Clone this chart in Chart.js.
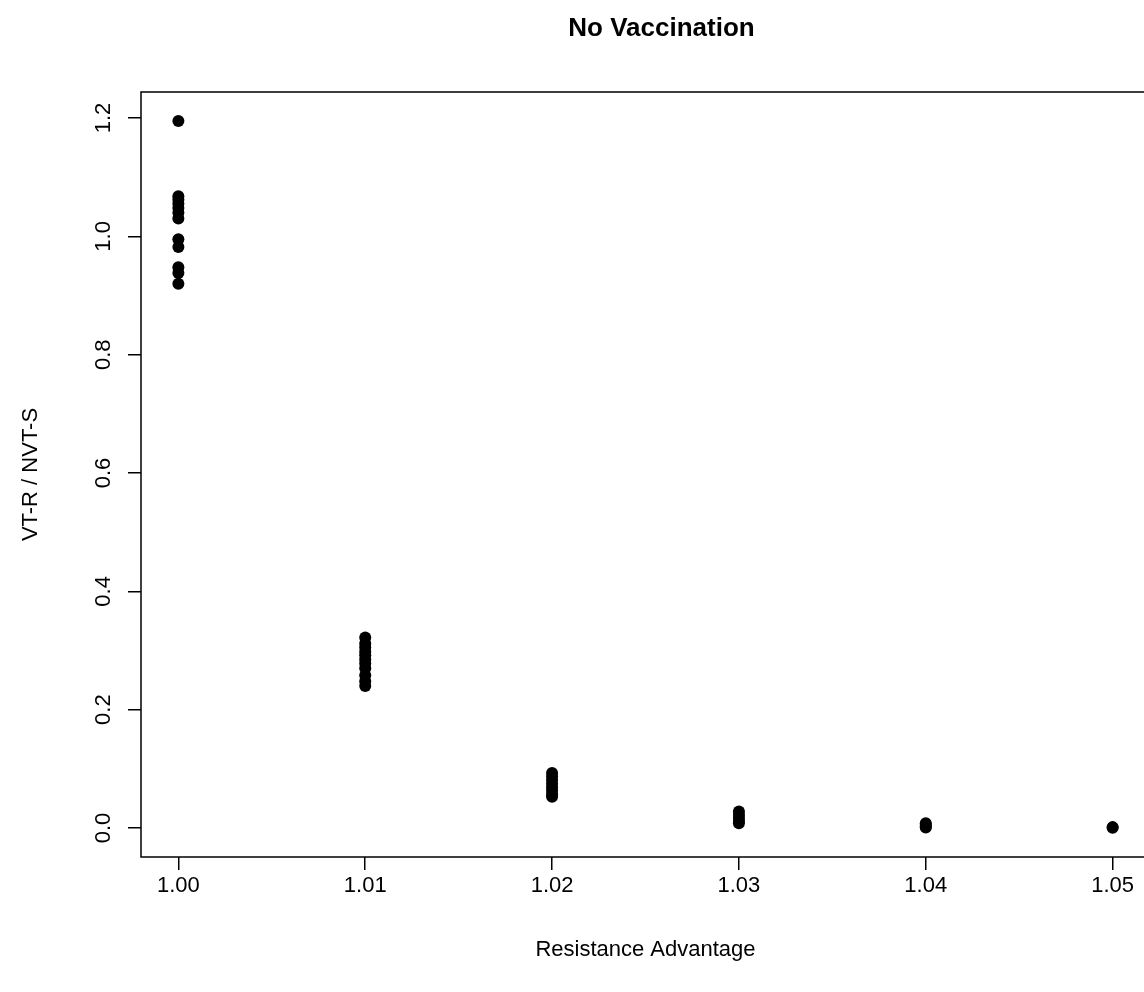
<!DOCTYPE html>
<html>
<head>
<meta charset="utf-8">
<title>No Vaccination</title>
<script src="https://cdn.jsdelivr.net/npm/chart.js@4.4.1/dist/chart.umd.min.js"></script>
<style>
  body { margin: 0; background: #fff; overflow: hidden; }
  #wrap { width: 1144px; height: 992px; overflow: hidden; }
</style>
</head>
<body>
<div id="wrap"><canvas id="plot" width="1160" height="992"></canvas></div>
<script>
// resistance advantage values (x categories)
const resAdvantage = [1.00, 1.01, 1.02, 1.03, 1.04, 1.05];

// VT-R / NVT-S ratio
const ratio100 = [1.195, 1.068, 1.062, 1.055, 1.048, 1.040, 1.030, 0.995, 0.982, 0.948, 0.938, 0.920];
const ratio101 = [0.322, 0.312, 0.305, 0.298, 0.292, 0.285, 0.278, 0.270, 0.258, 0.248, 0.240];
const ratio102 = [0.093, 0.087, 0.081, 0.075, 0.069, 0.063, 0.057, 0.053];
const ratio103 = [0.028, 0.022, 0.017, 0.012, 0.008];
const ratio104 = [0.008, 0.005, 0.002, 0.001];
const ratio105 = [0.0015, 0.0005];

// tick labels
const xTicks = [1.00, 1.01, 1.02, 1.03, 1.04, 1.05];
const yTicks = [0.0, 0.2, 0.4, 0.6, 0.8, 1.0, 1.2];

const FONT = '"Liberation Sans", Arial, sans-serif';

// put the columns together into points
var groups = [ratio100, ratio101, ratio102, ratio103, ratio104, ratio105];
var points = [];
for (var i = 0; i < groups.length; i++) {
    groups[i].forEach(v => points.push({ x: resAdvantage[i], y: v }));
}

// box, rotated y labels, titles (R style)
const rFrame = {
    id: 'rFrame',
    afterDraw(chart) {
        const ctx = chart.ctx;
        const a = chart.chartArea;
        const ys = chart.scales.y;
        ctx.save();
        ctx.strokeStyle = '#000';
        ctx.lineWidth = 1.5;
        ctx.strokeRect(a.left, a.top, a.right - a.left, a.bottom - a.top);

        ctx.fillStyle = '#000';
        ctx.textAlign = 'center';
        ctx.textBaseline = 'middle';
        ctx.font = '22px ' + FONT;
        yTicks.forEach(v => {
            ctx.save();
            ctx.translate(104, ys.getPixelForValue(v));
            ctx.rotate(-Math.PI / 2);
            ctx.fillText(v.toFixed(1), 0, 0);
            ctx.restore();
        });

        const cx = (a.left + a.right) / 2;
        ctx.fillText('Resistance Advantage', cx, 950);

        ctx.save();
        ctx.translate(31, (a.top + a.bottom) / 2);
        ctx.rotate(-Math.PI / 2);
        ctx.fillText('VT-R / NVT-S', 0, 0);
        ctx.restore();

        ctx.font = 'bold 26px ' + FONT;
        ctx.fillText('No Vaccination', cx + 16, 29);
        ctx.restore();
    }
};

new Chart(document.getElementById('plot'), {
    type: 'scatter',
    data: {
        datasets: [{
            data: points,
            backgroundColor: '#000',
            borderColor: '#000',
            borderWidth: 0,
            pointRadius: 6,
            pointHoverRadius: 6
        }]
    },
    options: {
        responsive: false,
        animation: false,
        devicePixelRatio: 1,
        layout: { padding: { left: 0, top: 92, right: 10, bottom: 0 } },
        plugins: { legend: { display: false }, tooltip: { enabled: false } },
        scales: {
            x: {
                type: 'linear',
                min: 0.998,
                max: 1.052,
                afterBuildTicks: s => { s.ticks = xTicks.map(v => ({ value: v })); },
                afterFit: s => { s.height = 135; },
                border: { display: false },
                grid: { drawOnChartArea: false, drawTicks: true, tickLength: 13, color: '#000', lineWidth: 1.5 },
                ticks: {
                    color: '#000',
                    padding: 3,
                    maxRotation: 0,
                    font: { family: FONT, size: 22 },
                    callback: v => Number(v).toFixed(2)
                }
            },
            y: {
                type: 'linear',
                min: -0.049,
                max: 1.244,
                afterBuildTicks: s => { s.ticks = yTicks.map(v => ({ value: v })); },
                afterFit: s => { s.width = 141; },
                border: { display: false },
                grid: { drawOnChartArea: false, drawTicks: true, tickLength: 13, color: '#000', lineWidth: 1.5 },
                ticks: { display: false }
            }
        }
    },
    plugins: [rFrame]
});
</script>
</body>
</html>
